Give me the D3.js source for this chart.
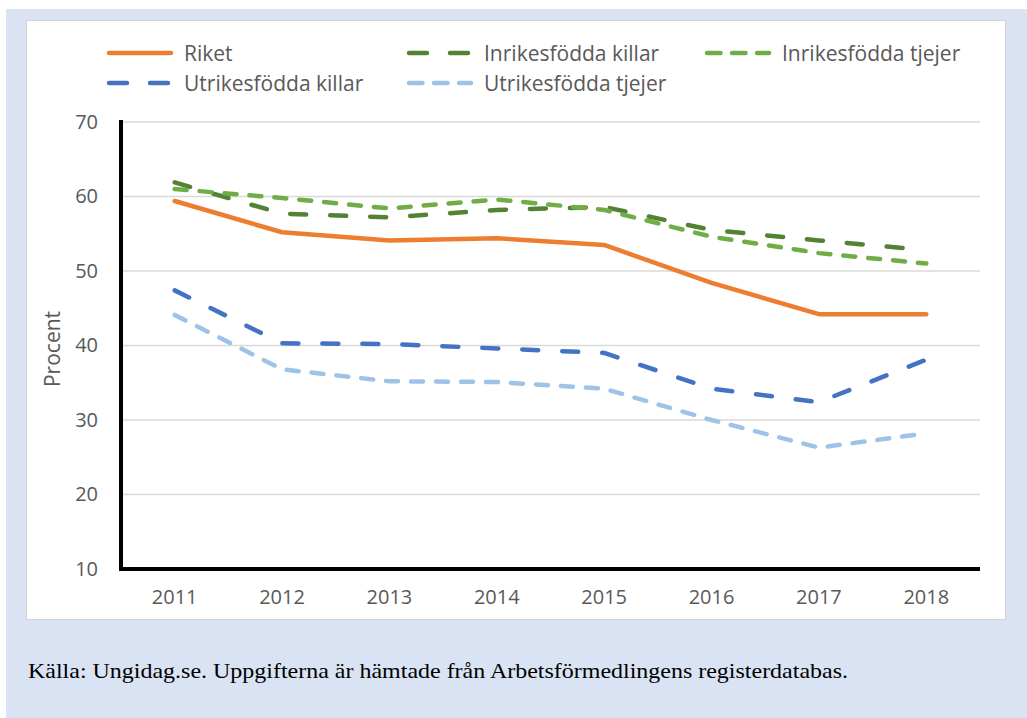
<!DOCTYPE html>
<html><head><meta charset="utf-8">
<script src="https://cdn.jsdelivr.net/npm/d3@7"></script>
<style>body{margin:0;background:#fff}svg{display:block}</style>
</head><body>
<svg id="c" width="1027" height="718"></svg>
<script>
const years = ["2011","2012","2013","2014","2015","2016","2017","2018"];
const riket = [59.4, 55.2, 54.1, 54.4, 53.5, 48.4, 44.2, 44.2];
const inrikesKillar = [61.9, 57.7, 57.2, 58.2, 58.6, 55.5, 54.1, 52.8];
const inrikesTjejer = [61.0, 59.8, 58.4, 59.6, 58.2, 54.6, 52.4, 51.0];
const utrikesKillar = [47.4, 40.3, 40.2, 39.6, 39.0, 34.2, 32.4, 38.1];
const utrikesTjejer = [44.1, 36.8, 35.2, 35.1, 34.2, 30.0, 26.3, 28.2];
const yTicks = [10, 20, 30, 40, 50, 60, 70];
const seriesNames = ["Riket","Inrikesfödda killar","Inrikesfödda tjejer","Utrikesfödda killar","Utrikesfödda tjejer"];
const sourceText = "Källa: Ungidag.se. Uppgifterna är hämtade från Arbetsförmedlingens registerdatabas.";

const LONG = "long", SHORT = "short";
const series = [
  {name: seriesNames[0], values: riket, color: "#ed7d31", dash: null},
  {name: seriesNames[1], values: inrikesKillar, color: "#548235", dash: LONG},
  {name: seriesNames[2], values: inrikesTjejer, color: "#70ad47", dash: SHORT},
  {name: seriesNames[3], values: utrikesKillar, color: "#4472c4", dash: LONG},
  {name: seriesNames[4], values: utrikesTjejer, color: "#9dc3e6", dash: SHORT}
];
const chartDash = {long: "16,24", short: "12,13"};
const legendDash = {long: "18,23", short: "13.5,11.5"};

const svg = d3.select("#c");
const font = "Open Sans, Noto Sans, sans-serif";
svg.append("rect").attr("x",6).attr("y",9).attr("width",1021).attr("height",709).attr("fill","#dae3f3");
svg.append("rect").attr("x",26.5).attr("y",20.5).attr("width",979).attr("height",599).attr("fill","#fff").attr("stroke","#d0d0d0").attr("stroke-width",1);

const x = d3.scaleBand().domain(years).range([121, 980]);
const y = d3.scaleLinear().domain([10, 70]).range([569, 122]);

// gridlines
svg.append("g").selectAll("line").data(yTicks.filter(t => t > 10)).join("line")
  .attr("x1",121).attr("x2",980).attr("y1",d=>y(d)).attr("y2",d=>y(d))
  .attr("stroke","#d9d9d9").attr("stroke-width",1.5);

// y axis
const yAxis = svg.append("g").attr("transform","translate(121,0)")
  .call(d3.axisLeft(y).tickValues(yTicks).tickSize(0).tickPadding(23).tickFormat(d3.format("d")));
yAxis.select(".domain").remove();
yAxis.selectAll("text").attr("font-family",font).attr("font-size",20).attr("fill","#595959");

// x axis
const xAxis = svg.append("g").attr("transform","translate(0,569)")
  .call(d3.axisBottom(x).tickSize(0).tickPadding(21));
xAxis.select(".domain").remove();
xAxis.selectAll("text").attr("font-family",font).attr("font-size",20).attr("fill","#595959");

svg.append("line").attr("x1",121).attr("x2",121).attr("y1",120).attr("y2",571).attr("stroke","#000").attr("stroke-width",4);
svg.append("line").attr("x1",119).attr("x2",980).attr("y1",569).attr("y2",569).attr("stroke","#000").attr("stroke-width",4);

svg.append("text").attr("transform","translate(60,349) rotate(-90)").attr("text-anchor","middle")
  .attr("font-family",font).attr("font-size",21).attr("fill","#595959").text("Procent");

const line = d3.line().x((d,i)=>x(years[i]) + x.bandwidth()/2).y(d=>y(d));
svg.append("g").selectAll("path").data(series).join("path")
  .attr("d", d=>line(d.values)).attr("fill","none").attr("stroke",d=>d.color)
  .attr("stroke-width",4.5).attr("stroke-linecap","round").attr("stroke-linejoin","round")
  .attr("stroke-dasharray",d=>d.dash ? chartDash[d.dash] : null);

// legend
const legPos = [[109,53],[409,53],[707,53],[109,83],[409,83]];
const leg = svg.append("g").selectAll("g").data(series).join("g")
  .attr("transform",(d,i)=>`translate(${legPos[i][0]},${legPos[i][1]})`);
leg.append("line").attr("x1",0).attr("x2",62).attr("y1",0).attr("y2",0)
  .attr("stroke",d=>d.color).attr("stroke-width",4.5).attr("stroke-linecap","round")
  .attr("stroke-dasharray",d=>d.dash ? legendDash[d.dash] : null);
leg.append("text").attr("x",75).attr("y",0).attr("dy","0.36em")
  .attr("font-family",font).attr("font-size",21).attr("fill","#595959").text(d=>d.name);

svg.append("text").attr("x",28).attr("y",678).attr("font-family","Liberation Serif, serif")
  .attr("font-size",21).attr("fill","#000").attr("textLength",820).attr("lengthAdjust","spacingAndGlyphs")
  .text(sourceText);
</script>
</body></html>
